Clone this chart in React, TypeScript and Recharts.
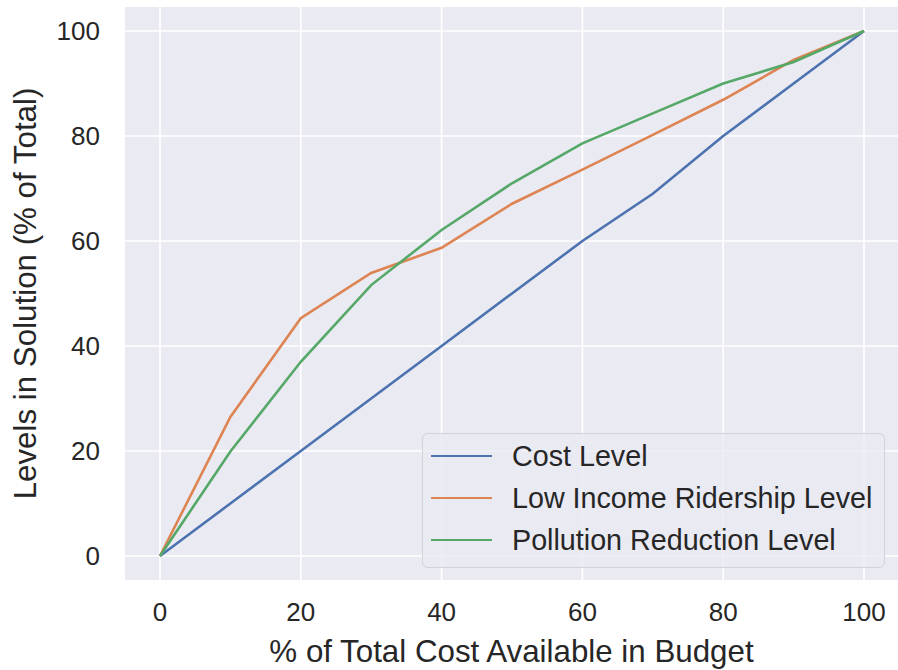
import React from "react";
import { LineChart, Line, XAxis, YAxis, CartesianGrid, Legend } from "recharts";

const budget = [0, 10, 20, 30, 40, 50, 60, 70, 80, 90, 100];
const costLevel = [0, 10, 20, 30, 40, 50, 60, 69, 80, 90, 100];
const lowIncomeLevel = [0, 26.5, 45.3, 53.9, 58.7, 67.1, 73.6, 80.2, 86.9, 94.5, 100];
const pollutionLevel = [0, 19.9, 37, 51.6, 62.1, 71, 78.6, 84.3, 90, 94.1, 100];
const xTicks = [0, 20, 40, 60, 80, 100];
const yTicks = [0, 20, 40, 60, 80, 100];

const seriesNames = ["Cost Level", "Low Income Ridership Level", "Pollution Reduction Level"];
const seriesColors = ["#4C72B0", "#DD8452", "#55A868"];

const data = budget.map((b, i) => ({
  budget: b,
  cost: costLevel[i],
  lowIncome: lowIncomeLevel[i],
  pollution: pollutionLevel[i],
}));

const FONT = '"Liberation Sans", Arial, sans-serif';
const TEXT = "#262626";

const LegendBox = (props: any) => {
  const payload = props.payload || [];
  return (
    <div
      style={{
        width: 463,
        height: 135,
        boxSizing: "border-box",
        border: "1.5px solid #d2d2d8",
        borderRadius: 6,
        background: "rgba(234,234,242,0.8)",
        fontFamily: FONT,
        fontSize: 28.7,
        color: TEXT,
        position: "relative",
      }}
    >
      {payload.map((p: any, i: number) => (
        <div
          key={i}
          style={{
            position: "absolute",
            left: 0,
            top: 22 + i * 42 - 20,
            height: 40,
            display: "flex",
            alignItems: "center",
            whiteSpace: "nowrap",
          }}
        >
          <div style={{ marginLeft: 8, width: 61, height: 2.6, background: p.color }} />
          <span style={{ marginLeft: 20, lineHeight: "40px" }}>{p.value}</span>
        </div>
      ))}
    </div>
  );
};

export default function App() {
  return (
    <div style={{ position: "absolute", left: 0, top: 0, width: 898, height: 670, background: "#fff" }}>
      <LineChart
        width={898}
        height={670}
        data={data}
        margin={{ top: 7, right: 0, bottom: 0, left: 0 }}
        style={{ fontFamily: FONT }}
      >
        <CartesianGrid
          fill="#EAEAF2"
          stroke="#ffffff"
          strokeWidth={1.6}
          horizontalValues={yTicks}
          verticalValues={xTicks}
        />
        <XAxis
          dataKey="budget"
          type="number"
          domain={[-4.97, 104.83]}
          allowDataOverflow
          ticks={xTicks}
          axisLine={false}
          tickLine={false}
          tickSize={0}
          tickMargin={23}
          height={90}
          tick={{ fill: TEXT, fontSize: 26, fontFamily: FONT }}
          label={{
            value: "% of Total Cost Available in Budget",
            position: "insideBottom",
            offset: 8,
            style: { fill: TEXT, fontSize: 31.3, fontFamily: FONT },
          }}
        />
        <YAxis
          type="number"
          domain={[-4.57, 104.57]}
          allowDataOverflow
          ticks={yTicks}
          axisLine={false}
          tickLine={false}
          tickSize={0}
          tickMargin={25}
          width={125}
          tick={{ fill: TEXT, fontSize: 26, fontFamily: FONT }}
          label={{
            value: "Levels in Solution (% of Total)",
            angle: -90,
            position: "insideLeft",
            offset: 25,
            style: { fill: TEXT, fontSize: 31.3, fontFamily: FONT, textAnchor: "middle" },
          }}
        />
        <Legend
          layout="horizontal"
          verticalAlign="middle"
          align="center"
          content={LegendBox}
          wrapperStyle={{ left: 422, top: 433, width: 463, height: 135 }}
        />
        <Line dataKey="cost" name={seriesNames[0]} stroke={seriesColors[0]} strokeWidth={2.6} dot={false} type="linear" isAnimationActive={false} />
        <Line dataKey="lowIncome" name={seriesNames[1]} stroke={seriesColors[1]} strokeWidth={2.6} dot={false} type="linear" isAnimationActive={false} />
        <Line dataKey="pollution" name={seriesNames[2]} stroke={seriesColors[2]} strokeWidth={2.6} dot={false} type="linear" isAnimationActive={false} />
      </LineChart>
    </div>
  );
}
